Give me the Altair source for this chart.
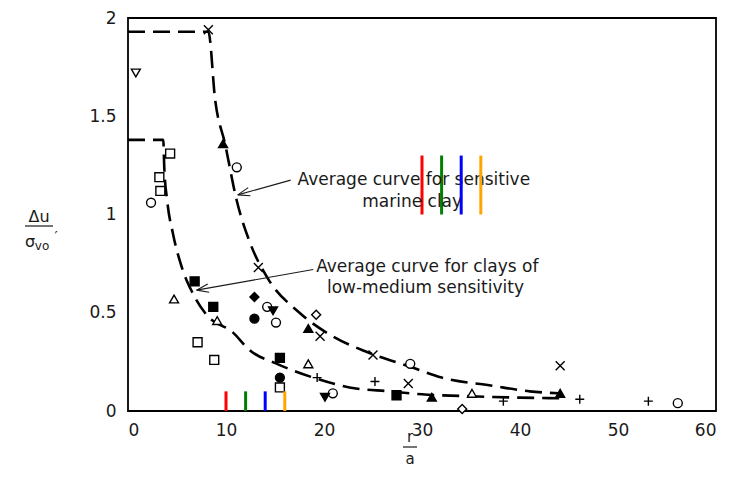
import math
import altair as alt
import pandas as pd

marker_kind = (
    ["open_circle"] * 7 + ["open_square"] * 6 + ["open_triangle"] * 4 + ["open_tri_down"] * 1
    + ["open_diamond"] * 2 + ["filled_square"] * 4 + ["filled_triangle"] * 4 + ["filled_tri_down"] * 2
    + ["filled_circle"] * 2 + ["filled_diamond"] * 1 + ["cross_x"] * 6 + ["plus"] * 5
)
marker_x = [
    11.1, 2.35, 14.2, 15.1, 20.9, 28.8, 56.1,
    4.3, 3.2, 3.3, 7.1, 8.8, 15.5,
    4.7, 9.1, 18.4, 35.1,
    0.8,
    19.2, 34.1,
    6.8, 8.7, 15.5, 27.4,
    9.7, 18.4, 31.0, 44.1,
    14.8, 20.1,
    12.9, 15.5,
    12.9,
    8.2, 13.3, 19.6, 25.0, 28.6, 44.1,
    19.3, 25.2, 38.3, 46.1, 53.1,
]
marker_y = [
    1.24, 1.06, 0.53, 0.45, 0.09, 0.24, 0.04,
    1.31, 1.19, 1.12, 0.35, 0.26, 0.12,
    0.57, 0.46, 0.24, 0.09,
    1.72,
    0.49, 0.01,
    0.66, 0.53, 0.27, 0.08,
    1.36, 0.42, 0.07, 0.09,
    0.51, 0.07,
    0.47, 0.17,
    0.58,
    1.94, 0.73, 0.38, 0.285, 0.14, 0.23,
    0.17, 0.15, 0.05, 0.06, 0.05,
]

upper_x = [0, 8.2, 8.9, 9.9, 11.1, 12.5, 14.2, 17.5, 20.9, 24.4, 29.1, 32, 37, 41, 44]
upper_y = [1.93, 1.93, 1.58, 1.36, 1.07, 0.85, 0.68, 0.50, 0.38, 0.30, 0.22, 0.17, 0.13, 0.10, 0.09]
lower_x = [0, 3.6, 3.7, 4.0, 4.6, 5.5, 6.6, 8.0, 10.7, 12.4, 15.2, 18.9, 22.6, 26.7, 30, 35, 40, 44]
lower_y = [1.38, 1.38, 1.24, 1.07, 0.90, 0.73, 0.60, 0.49, 0.40, 0.31, 0.24, 0.17, 0.12, 0.10,
           0.085, 0.075, 0.068, 0.065]

ann_text = ["Average curve for sensitive", "marine clay",
            "Average curve for clays of", "low-medium sensitivity"]
ann_x = [17.3, 23.9, 19.2, 20.3]
ann_y = [1.175, 1.063, 0.733, 0.626]

arrow_tail_x = [16.6, 18.9]
arrow_tail_y = [1.175, 0.72]
arrow_head_x = [11.2, 7.0]
arrow_head_y = [1.10, 0.615]

W, H = 588, 393
FONT = "DejaVu Sans"
INK = "#1a1a1a"
px_x = W / 60
px_y = H / 2

xs = alt.Scale(domain=[0, 60], nice=False, zero=False)
ys = alt.Scale(domain=[0, 2], nice=False, zero=False)

X = alt.X("x:Q", scale=xs, axis=alt.Axis(values=[0, 10, 20, 30, 40, 50, 60], ticks=False, domain=False, grid=False,
                                         labelFont=FONT, labelFontSize=17, labelColor=INK,
                                         labelPadding=11, title=None, format="~g"))
Y = alt.Y("y:Q", scale=ys, axis=alt.Axis(values=[0, 0.5, 1, 1.5, 2], ticks=False, domain=False, grid=False,
                                         labelFont=FONT, labelFontSize=17, labelColor=INK,
                                         labelPadding=12, title=None, format="~g"))

curves = pd.DataFrame({"x": upper_x + lower_x, "y": upper_y + lower_y,
                       "curve": ["upper"] * len(upper_x) + ["lower"] * len(lower_x)})
curve_layer = alt.Chart(curves).mark_line(
    color="black", strokeWidth=2.6, strokeDash=[17, 8], interpolate="monotone"
).encode(x=X, y=Y, detail="curve:N")

kinds = ["open_circle", "open_square", "open_triangle", "open_tri_down", "open_diamond",
         "filled_square", "filled_triangle", "filled_tri_down", "filled_circle", "filled_diamond",
         "cross_x", "plus"]
shapes = ["circle", "square", "triangle-up", "triangle-down", "diamond",
          "square", "triangle-up", "triangle-down", "circle", "diamond",
          "M-1,-1L1,1M-1,1L1,-1", "M-1,0L1,0M0,-1L0,1"]
fills = ["white"] * 5 + ["black"] * 5 + ["transparent"] * 2
markers = pd.DataFrame({"x": marker_x, "y": marker_y, "kind": marker_kind})
marker_layer = alt.Chart(markers).mark_point(
    filled=True, stroke="black", strokeWidth=1.4, size=80, opacity=1
).encode(x=X, y=Y,
         shape=alt.Shape("kind:N", scale=alt.Scale(domain=kinds, range=shapes), legend=None),
         fill=alt.Fill("kind:N", scale=alt.Scale(domain=kinds, range=fills), legend=None))

angles = []
for tx, ty, hx, hy in zip(arrow_tail_x, arrow_tail_y, arrow_head_x, arrow_head_y):
    angles.append(math.degrees(math.atan2(-(hy - ty) * px_y, (hx - tx) * px_x)) % 360)
arrows = pd.DataFrame({"x": arrow_tail_x, "y": arrow_tail_y, "x2": arrow_head_x,
                       "y2": arrow_head_y, "angle": angles})
arrow_line = alt.Chart(arrows).mark_rule(color=INK, strokeWidth=1.1).encode(
    x=alt.X("x:Q", scale=xs), y=alt.Y("y:Q", scale=ys), x2="x2:Q", y2="y2:Q")
arrow_head = alt.Chart(arrows).mark_point(
    shape="M0,0L-2,-0.7M0,0L-2,0.7", size=144, filled=False, stroke=INK, strokeWidth=1.1, opacity=1
).encode(x=alt.X("x2:Q", scale=xs), y=alt.Y("y2:Q", scale=ys), angle=alt.Angle("angle:Q", scale=None))

ann = pd.DataFrame({"x": ann_x, "y": ann_y, "t": ann_text})
ann_layer = alt.Chart(ann).mark_text(
    align="left", baseline="middle", font=FONT, fontSize=17, color=INK
).encode(x=alt.X("x:Q", scale=xs), y=alt.Y("y:Q", scale=ys), text="t:N")

def label(txt, px, py, size=17):
    return alt.Chart(pd.DataFrame({"t": [txt]})).mark_text(
        font=FONT, fontSize=size, color=INK, align="center", baseline="middle"
    ).encode(x=alt.value(px), y=alt.value(py), text="t:N")

def bar(px1, px2, py, key):
    return alt.Chart(pd.DataFrame({"t": [key]})).mark_rule(color=INK, strokeWidth=1.2).encode(
        x=alt.value(px1), x2=alt.value(px2), y=alt.value(py))

titles = [label("Δu", -89, 199, 16), bar(-103, -75, 208, "ybar"), label("σ", -98, 224, 16),
          label("vo", -86, 228, 12), label("′", -72, 219, 14),
          label("r", 282, 419, 15), bar(275, 289, 429, "xbar"), label("a", 282, 441, 15)]

# debug layers
red = alt.Chart(pd.DataFrame({"x": [10.0, 30.0], "y": [0.0, 1.0], "y2": [0.1, 1.3]})).mark_rule(
    color="red", strokeWidth=3).encode(x=alt.X("x:Q", scale=xs), y=alt.Y("y:Q", scale=ys), y2="y2:Q")
green = alt.Chart(pd.DataFrame({"x": [12.0, 32.0], "y": [0.0, 1.0], "y2": [0.1, 1.3]})).mark_rule(
    color="green", strokeWidth=3).encode(x=alt.X("x:Q", scale=xs), y=alt.Y("y:Q", scale=ys), y2="y2:Q")
blue = alt.Chart(pd.DataFrame({"x": [14.0, 34.0], "y": [0.0, 1.0], "y2": [0.1, 1.3]})).mark_rule(
    color="blue", strokeWidth=3).encode(x=alt.X("x:Q", scale=xs), y=alt.Y("y:Q", scale=ys), y2="y2:Q")
orange = alt.Chart(pd.DataFrame({"x": [16.0, 36.0], "y": [0.0, 1.0], "y2": [0.1, 1.3]})).mark_rule(
    color="orange", strokeWidth=3).encode(x=alt.X("x:Q", scale=xs), y=alt.Y("y:Q", scale=ys), y2="y2:Q")

chart = alt.layer(
    red, curve_layer, green, arrow_line, arrow_head, ann_layer, blue, marker_layer, *titles, orange
).properties(
    width=W, height=H,
    autosize=alt.AutoSizeParams(type="none"),
    padding={"left": 120, "top": 10, "right": 6, "bottom": 60},
    background="white",
).configure_view(stroke="black", strokeWidth=1.8)

chart.save("out.html", embed_options={"renderer": "svg", "actions": False})
